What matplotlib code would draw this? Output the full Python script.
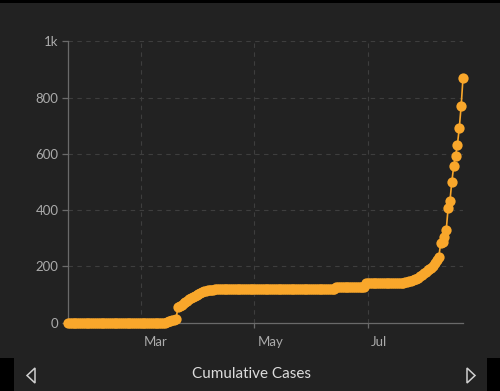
import matplotlib
matplotlib.use('Agg')
import matplotlib.pyplot as plt
import matplotlib.dates as mdates
import matplotlib.transforms as mtransforms
from matplotlib.patches import Rectangle, Polygon
import pandas as pd

# daily cumulative cases, 22 Jan 2020 -> 20 Aug 2020
start_date = '2020-01-22'
cases = [
    0, 0, 0, 0, 0, 0, 0, 0, 0, 0, 0, 0, 0, 0, 0, 0, 0, 0, 0, 0,
    0, 0, 0, 0, 0, 0, 0, 0, 0, 0, 0, 0, 0, 0, 0, 0, 0, 0, 0, 0,
    0, 0, 0, 0, 0, 0, 0, 0, 0, 0, 0, 0, 0, 2, 4, 6, 8, 10, 12, 56,
    60, 64, 68, 73, 78, 83, 87, 91, 95, 99, 103, 106, 109, 111, 113, 114, 115, 116, 117, 118,
    118, 118, 118, 118, 118, 118, 118, 118, 118, 118, 118, 118, 118, 118, 118, 118, 118, 118, 118, 118,
    118, 118, 118, 118, 118, 118, 118, 118, 118, 118, 118, 118, 118, 118, 118, 118, 118, 118, 118, 118,
    118, 118, 118, 118, 118, 118, 118, 118, 118, 118, 118, 118, 118, 118, 118, 118, 118, 118, 118, 118,
    118, 118, 118, 118, 127, 127, 127, 127, 127, 127, 127, 127, 127, 127, 127, 127, 127, 127, 127, 127,
    139, 139, 139, 139, 139, 139, 139, 139, 139, 139, 139, 139, 139, 139, 139, 139, 139, 140, 140, 141,
    142, 143, 145, 147, 149, 151, 153, 156, 160, 164, 169, 175, 180, 185, 190, 195, 200, 210, 222, 233,
    281, 287, 305, 329, 406, 433, 501, 555, 593, 632, 692, 769,
    870,
]
dates = pd.date_range(start_date, periods=len(cases), freq='D')

y_ticks = [0, 200, 400, 600, 800, 1000]
y_tick_labels = ['0', '200', '400', '600', '800', '1k']
x_months = [3, 5, 7]
title = 'Cumulative Cases'

bg = '#222222'
orange = '#f9a72b'
grid_col = '#3e3e3e'
spine_col = '#6a6a6a'
text_col = '#ababab'

plt.rcParams['font.family'] = ['Lato', 'DejaVu Sans']

fig = plt.figure(figsize=(5.0, 3.91), dpi=100, facecolor=bg)
W, H = 500, 391

# black frame pieces around the panel
fig.patches.append(Rectangle((0, (H - 3) / H), 1, 3 / H, transform=fig.transFigure,
                             facecolor='black', edgecolor='none'))
fig.patches.append(Rectangle((0, 0), 14 / W, 33 / H, transform=fig.transFigure,
                             facecolor='black', edgecolor='none'))
fig.patches.append(Rectangle((487 / W, 0), 13 / W, 33 / H, transform=fig.transFigure,
                             facecolor='black', edgecolor='none'))

ax = fig.add_axes([68 / W, (H - 322.5) / H, 395 / W, 281.2 / H])
ax.set_facecolor(bg)

ax.plot(dates, cases, color=orange, lw=1.2, marker='o', markersize=7.4,
        markeredgewidth=0, clip_on=False, zorder=3)

ax.set_xlim(pd.Timestamp('2020-01-22'), pd.Timestamp('2020-08-21'))
ax.set_ylim(0, 1000)

ax.xaxis.set_major_locator(mdates.MonthLocator(bymonth=x_months))
ax.xaxis.set_major_formatter(mdates.DateFormatter('%b'))
ax.set_yticks(y_ticks)
ax.set_yticklabels(y_tick_labels)

ax.grid(True, color=grid_col, linestyle=(0, (4, 4)), linewidth=0.8)
ax.set_axisbelow(True)

for side in ['top', 'right']:
    ax.spines[side].set_visible(False)
for side in ['left', 'bottom']:
    ax.spines[side].set_color(spine_col)
    ax.spines[side].set_linewidth(0.9)

ax.tick_params(axis='y', colors=spine_col, length=4.3, width=0.9, pad=2.5,
               labelcolor=text_col, labelsize=9.5)
ax.tick_params(axis='x', colors=spine_col, length=3.5, width=0.9, pad=6,
               labelcolor=text_col, labelsize=9.5)

shift = mtransforms.ScaledTranslation(3 / 100, 0, fig.dpi_scale_trans)
for lbl in ax.get_xticklabels():
    lbl.set_horizontalalignment('left')
    lbl.set_transform(lbl.get_transform() + shift)

fig.text(251 / W, (H - 374) / H, title, ha='center', va='center',
         color='#dcdcdc', fontsize=11)

# navigation arrows
fig.patches.append(Polygon([(35 / W, (H - 368) / H), (27 / W, (H - 375.5) / H), (35 / W, (H - 383) / H)],
                           closed=True, transform=fig.transFigure, fill=False,
                           edgecolor='#cfcfcf', linewidth=1.1))
fig.patches.append(Polygon([(467 / W, (H - 368) / H), (475 / W, (H - 375.5) / H), (467 / W, (H - 383) / H)],
                           closed=True, transform=fig.transFigure, fill=False,
                           edgecolor='#cfcfcf', linewidth=1.1))

fig.savefig('out.png', dpi=100, facecolor=bg)
